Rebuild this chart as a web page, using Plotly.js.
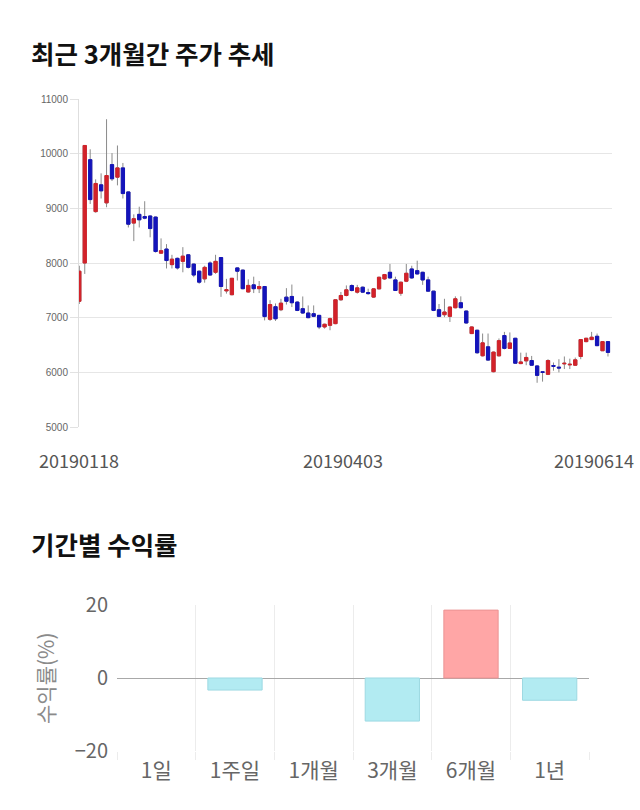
<!DOCTYPE html>
<html><head><meta charset="utf-8">
<script src="https://cdn.plot.ly/plotly-3.0.1.min.js"></script>
<style>html,body{margin:0;padding:0;background:#fff;}#chart{width:640px;height:810px;}</style>
</head><body><div id="chart"></div>
<script>
// ---- Price data (daily OHLC, 2019-01-18 .. 2019-06-14) ----
const openP  = [7300,8000,9890,8940,9430,9100,9800,9570,9740,9300,8730,8890,8850,8860,8840,8180,8255,7970,8085,8030,
                8150,7980,7850,7710,8000,7830,8100,7490,7420,7910,7870,7470,7600,7530,7570,6970,7200,7145,7375,7388,
                7285,7164,7085,7073,7042,6830,6860,6891,7327,7406,7588,7467,7557,7460,7376,7527,7709,7830,7691,7448,
                7667,7891,7860,7830,7691,7485,7145,7054,7024,7182,7273,7121,6709,6770,6303,6467,6012,6302,6673,6438,
                6623,6160,6210,6216,6117,6010,5963,6125,6095,6155,6137,6130,6290,6562,6599,6660,6395,6562];
const highP  = [7950,10150,10080,9530,9640,10630,10010,10150,9830,9310,8890,9030,9130,8870,8850,8450,8345,8150,8100,8290,
                8160,7990,7860,7950,8030,8150,8110,7710,7720,7920,7880,7700,7750,7670,7580,7320,7260,7345,7540,7606,
                7300,7388,7224,7224,7050,6890,7000,7330,7470,7590,7610,7600,7570,7530,7540,7750,7800,7982,7750,7660,
                7982,7950,8042,7840,7750,7490,7250,7345,7200,7390,7390,7130,6840,6780,6710,6710,6380,6620,6740,6730,
                6630,6360,6360,6300,6130,6020,6240,6180,6240,6290,6250,6270,6600,6630,6740,6710,6570,6570];
const lowP   = [7250,7800,9080,8920,9180,9020,9500,9420,9180,8650,8400,8650,8800,8470,8190,8170,7900,7900,7880,7830,
                7900,7740,7620,7640,7770,7800,7380,7440,7410,7680,7520,7460,7450,7450,6950,6940,6940,7120,7240,7194,
                7120,7070,6990,7010,6790,6800,6770,6880,7310,7390,7480,7440,7450,7420,7360,7520,7690,7710,7490,7400,
                7650,7710,7790,7600,7480,7120,7010,7010,6921,7170,7170,6890,6700,6340,6290,6210,6000,6290,6420,6430,
                6160,6150,6130,6120,5809,5830,5950,6030,6000,6060,6060,6120,6240,6550,6590,6480,6390,6290];
const closeP = [7850,10150,9160,9455,9320,9600,9540,9740,9270,8710,8810,8790,8820,8630,8210,8225,8045,8070,7910,8125,
                7920,7780,7650,7920,7780,8030,7570,7510,7720,7850,7530,7590,7530,7570,7020,7240,6980,7265,7300,7273,
                7133,7085,7000,7024,6830,6879,6982,7327,7406,7509,7497,7545,7467,7440,7527,7739,7788,7727,7497,7648,
                7812,7727,7800,7690,7485,7133,7024,7103,7194,7345,7182,6903,6830,6358,6539,6224,6370,6580,6438,6537,
                6167,6190,6272,6130,5944,6000,6216,6110,6080,6165,6147,6228,6599,6623,6642,6488,6562,6364];
const priceTickIdx = [0, 49, 97];
const priceTickLabels = ['20190118', '20190403', '20190614'];

// ---- Period returns ----
const periods = ['1일', '1주일', '1개월', '3개월', '6개월', '1년'];
const returns = [0, -3.3, 0, -11.8, 18.6, -6.1];

const RED = '#d3222a', BLUE = '#1414bb', WICK = '#8a8a8a';
const POS = '#ffa6a6', POS_LINE = '#eb9393', NEG = '#b2ebf2', NEG_LINE = '#9dd9e2', NONE = 'rgba(0,0,0,0)';

const idx = openP.map((_, i) => i);
const bodyHigh = openP.map((o, i) => Math.max(o, closeP[i]));
const bodyLow = openP.map((o, i) => Math.min(o, closeP[i]));

const W = 640, H = 810;
const px = v => v / W, py = v => (H - v) / H;

const traces = [
  { type: 'candlestick', x: idx, open: openP, high: highP, low: lowP, close: closeP,
    xaxis: 'x', yaxis: 'y', hoverinfo: 'skip',
    increasing: { line: { color: WICK, width: 1 }, fillcolor: WICK },
    decreasing: { line: { color: WICK, width: 1 }, fillcolor: WICK } },
  { type: 'candlestick', x: idx, open: openP, high: bodyHigh, low: bodyLow, close: closeP,
    xaxis: 'x', yaxis: 'y', hoverinfo: 'skip',
    increasing: { line: { color: RED, width: 1 }, fillcolor: RED },
    decreasing: { line: { color: BLUE, width: 1 }, fillcolor: BLUE } },
  { type: 'bar', x: periods, y: returns, xaxis: 'x2', yaxis: 'y2', hoverinfo: 'skip',
    marker: { color: returns.map(v => v > 0 ? POS : (v < 0 ? NEG : NONE)),
              line: { color: returns.map(v => v > 0 ? POS_LINE : (v < 0 ? NEG_LINE : NONE)), width: 1 } } }
];

const KR = 'Noto Sans CJK KR';
const annotations = [
  { text: '최근 3개월간 주가 추세', xref: 'paper', yref: 'paper', x: px(29), y: py(52),
    xanchor: 'left', yanchor: 'middle', showarrow: false,
    font: { family: KR, size: 25.5, color: '#111', weight: 700 } },
  { text: '기간별 수익률', xref: 'paper', yref: 'paper', x: px(29), y: py(543),
    xanchor: 'left', yanchor: 'middle', showarrow: false,
    font: { family: KR, size: 25.5, color: '#111', weight: 700 } },
  { text: '수익률(%)', xref: 'paper', yref: 'paper', x: px(45), y: py(678),
    xanchor: 'center', yanchor: 'middle', textangle: -90, showarrow: false,
    font: { family: KR, size: 21, color: '#8a8a8a' } }
];
priceTickIdx.forEach((k, j) => {
  const last = j === priceTickIdx.length - 1;
  annotations.push({ text: priceTickLabels[j], xref: 'x', yref: 'paper', x: k, y: py(460),
    xanchor: last ? 'right' : 'center', xshift: last ? 28 : (j === 1 ? -3 : 0), yanchor: 'middle', showarrow: false,
    font: { family: KR, size: 18, color: '#555' } });
});

const layout = {
  width: W, height: H, margin: { l: 0, r: 0, t: 0, b: 0 },
  paper_bgcolor: '#fff', plot_bgcolor: '#fff', showlegend: false,
  boxgap: 0.15, bargap: 0.31,
  xaxis: { domain: [px(79), px(612)], anchor: 'y', range: [-0.055, 97.74],
           showticklabels: false, showgrid: false, zeroline: false, showline: false,
           rangeslider: { visible: false }, fixedrange: true },
  yaxis: { domain: [py(427), py(99)], anchor: 'x', range: [5000, 11000], tick0: 5000, dtick: 1000,
           tickformat: 'd',
           showgrid: true, gridcolor: '#e6e6e6', gridwidth: 1, zeroline: false,
           showline: true, linecolor: '#dedede', linewidth: 1,
           ticks: 'outside', ticklen: 8, tickcolor: '#e2e2e2',
           tickfont: { family: 'Liberation Sans', size: 10, color: '#666' }, fixedrange: true },
  xaxis2: { domain: [px(117), px(589)], anchor: 'y2', type: 'category', tickson: 'boundaries',
            showgrid: true, gridcolor: '#ececec', ticks: 'outside', ticklen: 8, tickcolor: '#ececec',
            ticklabelstandoff: 5,
            showline: false, zeroline: false,
            tickfont: { family: KR, size: 21, color: '#666' }, fixedrange: true },
  yaxis2: { domain: [py(751), py(605)], anchor: 'x2', range: [-20, 20], dtick: 20,
            showgrid: true, gridcolor: '#e3e3e3', zeroline: true, zerolinecolor: '#a8a8a8', zerolinewidth: 1,
            showline: false, ticks: '', ticklabelstandoff: 8,
            tickfont: { family: KR, size: 20, color: '#666' }, fixedrange: true },
  annotations: annotations
};

Plotly.newPlot('chart', traces, layout, { displayModeBar: false, staticPlot: true });
</script>
</body></html>
